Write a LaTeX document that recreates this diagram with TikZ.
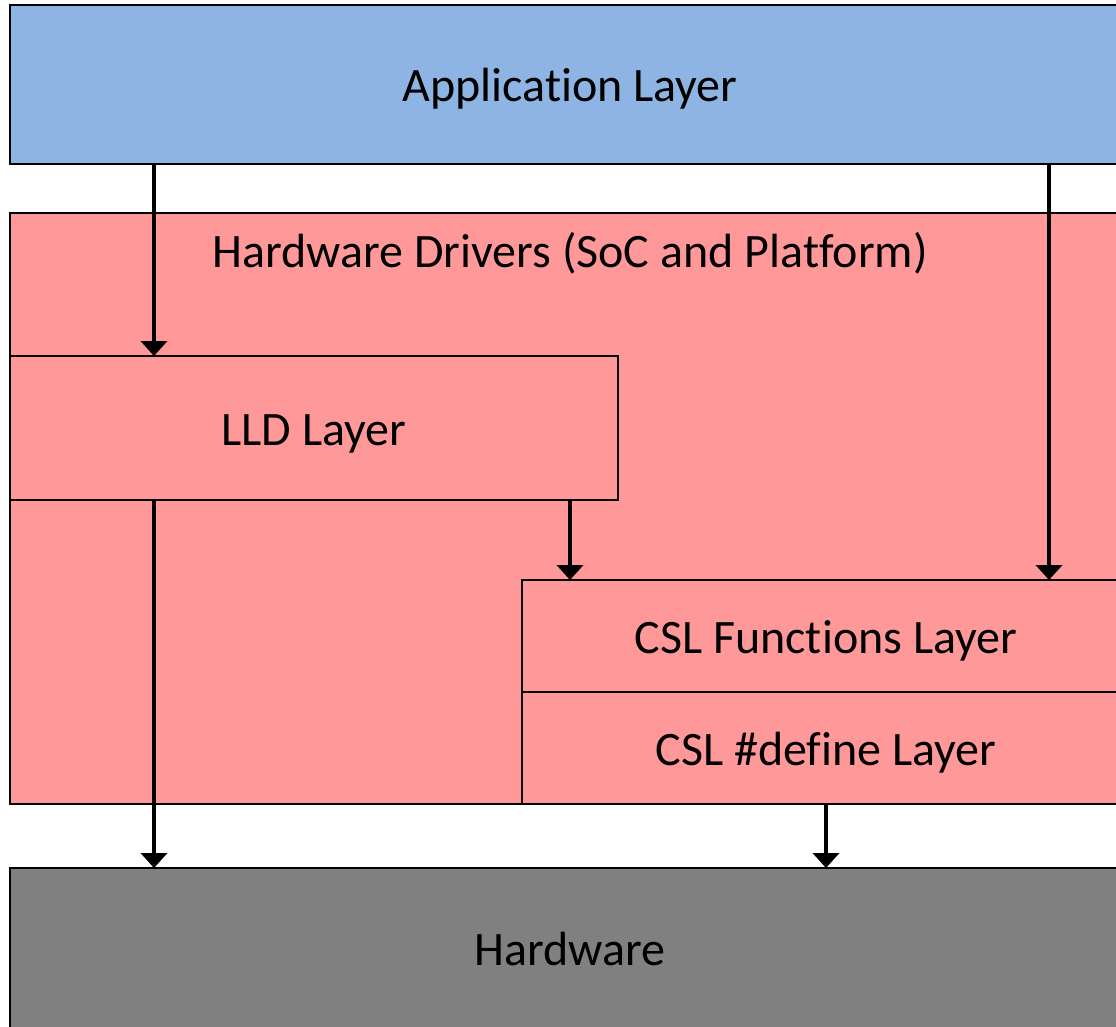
\documentclass[tikz,border=0pt]{standalone}
\usepackage{fontspec}
\setmainfont[Ligatures=NoCommon]{Carlito}
\usetikzlibrary{arrows.meta}
\definecolor{appblue}{HTML}{8EB4E3}
\definecolor{drvpink}{HTML}{FF9999}
\definecolor{hwgray}{HTML}{808080}
\tikzset{
  layer/.style={draw=black, line width=2pt, inner sep=0pt, outer sep=0pt,
    anchor=north west, text height=34pt, text depth=0pt,
    font=\fontsize{48}{58}\selectfont},
  flow/.style={line width=4.5pt, -{Triangle[width=26pt,length=15pt]}},
  caption/.style={font=\fontsize{48}{58}\selectfont}
}
\begin{document}
\begin{tikzpicture}[x=1pt,y=-1pt]
\useasboundingbox (0,0) rectangle (1116,1026);
\clip (0,0) rectangle (1116,1026);
% layer boxes (they run past the right and bottom edges)
\node[layer, fill=appblue, minimum width=1120pt, minimum height=159pt] (app) at (10,5) {Application Layer};
\node[layer, fill=drvpink, minimum width=1120pt, minimum height=591pt] (drv) at (10,213) {};
\node[caption] (drvlabel) at (570,253) {Hardware Drivers (SoC and Platform)};
\node[layer, fill=drvpink, minimum width=608pt, minimum height=144pt] (lld) at (10,356) {LLD Layer};
\node[layer, fill=drvpink, minimum width=608pt, minimum height=112pt] (cslf) at (522,580) {CSL Functions Layer};
\node[layer, fill=drvpink, minimum width=608pt, minimum height=112pt] (csld) at (522,692) {CSL \#define Layer};
\node[layer, fill=hwgray, minimum width=1120pt, minimum height=160pt] (hw) at (10,868) {Hardware};
% columns of the call arrows
\coordinate (colA) at (154,0);
\coordinate (colB) at (570,0);
\coordinate (colC) at (1049,0);
% call arrows
\draw[flow] (colA |- app.south) -- (colA |- lld.north);
\draw[flow] (colC |- app.south) -- (colC |- cslf.north);
\draw[flow] (colB |- lld.south) -- (colB |- cslf.north);
\draw[flow] (colA |- lld.south) -- (colA |- hw.north);
\draw[flow] (csld.south) -- (hw.north -| csld.south);
\end{tikzpicture}
\end{document}
